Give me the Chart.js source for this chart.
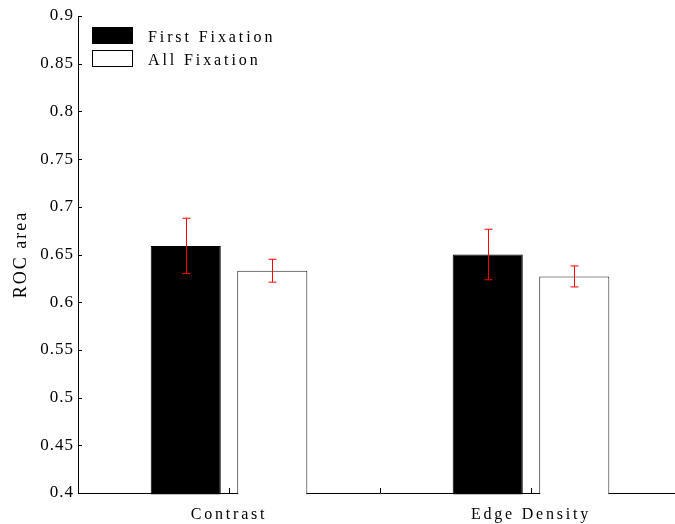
<!DOCTYPE html>
<html>
<head>
<meta charset="utf-8">
<script src="https://cdn.jsdelivr.net/npm/chart.js@4.4.0/dist/chart.umd.min.js"></script>
<style>
    html, body { margin: 0; padding: 0; background: #fff; }
    #wrap { width: 675px; height: 524px; overflow: hidden; }
</style>
</head>
<body>
<div id="wrap"><canvas id="chart" width="690" height="524"></canvas></div>
<script>
const categories = ['Contrast', 'Edge Density'];
const firstFixation = [0.659, 0.650];
const allFixation = [0.633, 0.627];
const firstFixationErr = [0.029, 0.0265];
const allFixationErr = [0.012, 0.011];
const yTicks = [0.4, 0.45, 0.5, 0.55, 0.6, 0.65, 0.7, 0.75, 0.8, 0.85, 0.9];

const serif = "'Liberation Serif', 'DejaVu Serif', serif";

// red error bars, drawn from the y scale
const errorBars = {
    id: 'errorBars',
    afterDatasetsDraw(chart) {
        const ctx = chart.ctx;
        const y = chart.scales.y;
        ctx.save();
        ctx.strokeStyle = '#ff0000';
        ctx.lineWidth = 1;
        chart.data.datasets.forEach((ds, i) => {
            const meta = chart.getDatasetMeta(i);
            meta.data.forEach((bar, j) => {
                const v = ds.data[j];
                const e = ds.errors[j];
                const x = Math.round(bar.x) + 0.5;
                const top = y.getPixelForValue(v + e);
                const bot = y.getPixelForValue(v - e);
                ctx.beginPath();
                ctx.moveTo(x, top);
                ctx.lineTo(x, bot);
                ctx.moveTo(x - 4, top);
                ctx.lineTo(x + 4, top);
                ctx.moveTo(x - 4, bot);
                ctx.lineTo(x + 4, bot);
                ctx.stroke();
            });
        });
        ctx.restore();
    }
};

// inward tick marks like the original figure
const innerTicks = {
    id: 'innerTicks',
    afterDatasetsDraw(chart) {
        const ctx = chart.ctx;
        const {x, y} = chart.scales;
        const area = chart.chartArea;
        ctx.save();
        ctx.strokeStyle = '#000';
        ctx.lineWidth = 1;
        ctx.beginPath();
        yTicks.forEach(t => {
            const py = Math.round(y.getPixelForValue(t)) + 0.5;
            ctx.moveTo(area.left, py);
            ctx.lineTo(area.left + 4, py);
        });
        const c0 = x.getPixelForValue(0);
        const c1 = x.getPixelForValue(1);
        [c0, (c0 + c1) / 2, c1].forEach(px => {
            const xx = Math.round(px) + 0.5;
            ctx.moveTo(xx, area.bottom);
            ctx.lineTo(xx, area.bottom - 5);
        });
        ctx.stroke();
        ctx.restore();
    }
};

// legend box in the top-left corner of the plot
const cornerLegend = {
    id: 'cornerLegend',
    afterDraw(chart) {
        const ctx = chart.ctx;
        const area = chart.chartArea;
        ctx.save();
        ctx.font = '16px ' + serif;
        ctx.letterSpacing = '2.9px';
        ctx.textBaseline = 'middle';
        chart.data.datasets.forEach((ds, i) => {
            const bx = area.left + 14;
            const by = area.top + 11 + i * 23;
            ctx.fillStyle = ds.backgroundColor;
            ctx.fillRect(bx, by, 41, 17);
            ctx.strokeStyle = '#000';
            ctx.strokeRect(bx + 0.5, by + 0.5, 40, 16);
            ctx.fillStyle = '#000';
            ctx.fillText(ds.label, bx + 56, by + 11);
        });
        ctx.restore();
    }
};

// letter spacing for axis text (Chart.js has no option for it)
function spaced(fn, spacing) {
    return function (a) {
        this.ctx.save();
        this.ctx.letterSpacing = spacing;
        fn.call(this, a);
        this.ctx.restore();
    };
}
const spacedText = {
    id: 'spacedText',
    beforeDraw(chart) {
        const {x, y} = chart.scales;
        if (x._spaced) return;
        x.drawLabels = spaced(x.drawLabels, '2.8px');
        y.drawLabels = spaced(y.drawLabels, '1px');
        y.drawTitle = spaced(y.drawTitle, '2px');
        x._spaced = true;
    }
};

new Chart(document.getElementById('chart'), {
    type: 'bar',
    data: {
        labels: categories,
        datasets: [
            {
                label: 'First Fixation',
                data: firstFixation,
                errors: firstFixationErr,
                backgroundColor: '#000000',
                borderColor: '#000000',
                borderWidth: 1
            },
            {
                label: 'All Fixation',
                data: allFixation,
                errors: allFixationErr,
                backgroundColor: '#ffffff',
                borderColor: '#222222',
                borderWidth: 1
            }
        ]
    },
    options: {
        responsive: false,
        animation: false,
        categoryPercentage: 0.573,
        barPercentage: 0.81,
        // let the bars run over the bottom axis line as in the original
        base: 0.3985,
        clip: 2,
        layout: { padding: { left: 0, right: 8, top: 16, bottom: 0 } },
        plugins: {
            legend: { display: false },
            tooltip: { enabled: false }
        },
        scales: {
            x: {
                grid: { display: false, drawTicks: false },
                border: { display: true, color: '#000', width: 1 },
                ticks: {
                    color: '#000',
                    font: { family: serif, size: 16 },
                    padding: 12
                },
                afterFit(scale) { scale.height = 31; }
            },
            y: {
                min: 0.4,
                max: 0.9,
                grid: { display: false, drawTicks: false },
                border: { display: true, color: '#000', width: 1 },
                afterBuildTicks(scale) {
                    scale.ticks = yTicks.map(v => ({ value: v }));
                },
                ticks: {
                    color: '#000',
                    font: { family: serif, size: 17 },
                    padding: 4,
                    callback: v => String(parseFloat(v.toFixed(2)))
                },
                title: {
                    display: true,
                    text: 'ROC area',
                    color: '#000',
                    font: { family: serif, size: 18 },
                    padding: { top: 10, bottom: 0 }
                },
                afterFit(scale) { scale.width = 78; }
            }
        }
    },
    plugins: [errorBars, innerTicks, cornerLegend, spacedText]
});
</script>
</body>
</html>
